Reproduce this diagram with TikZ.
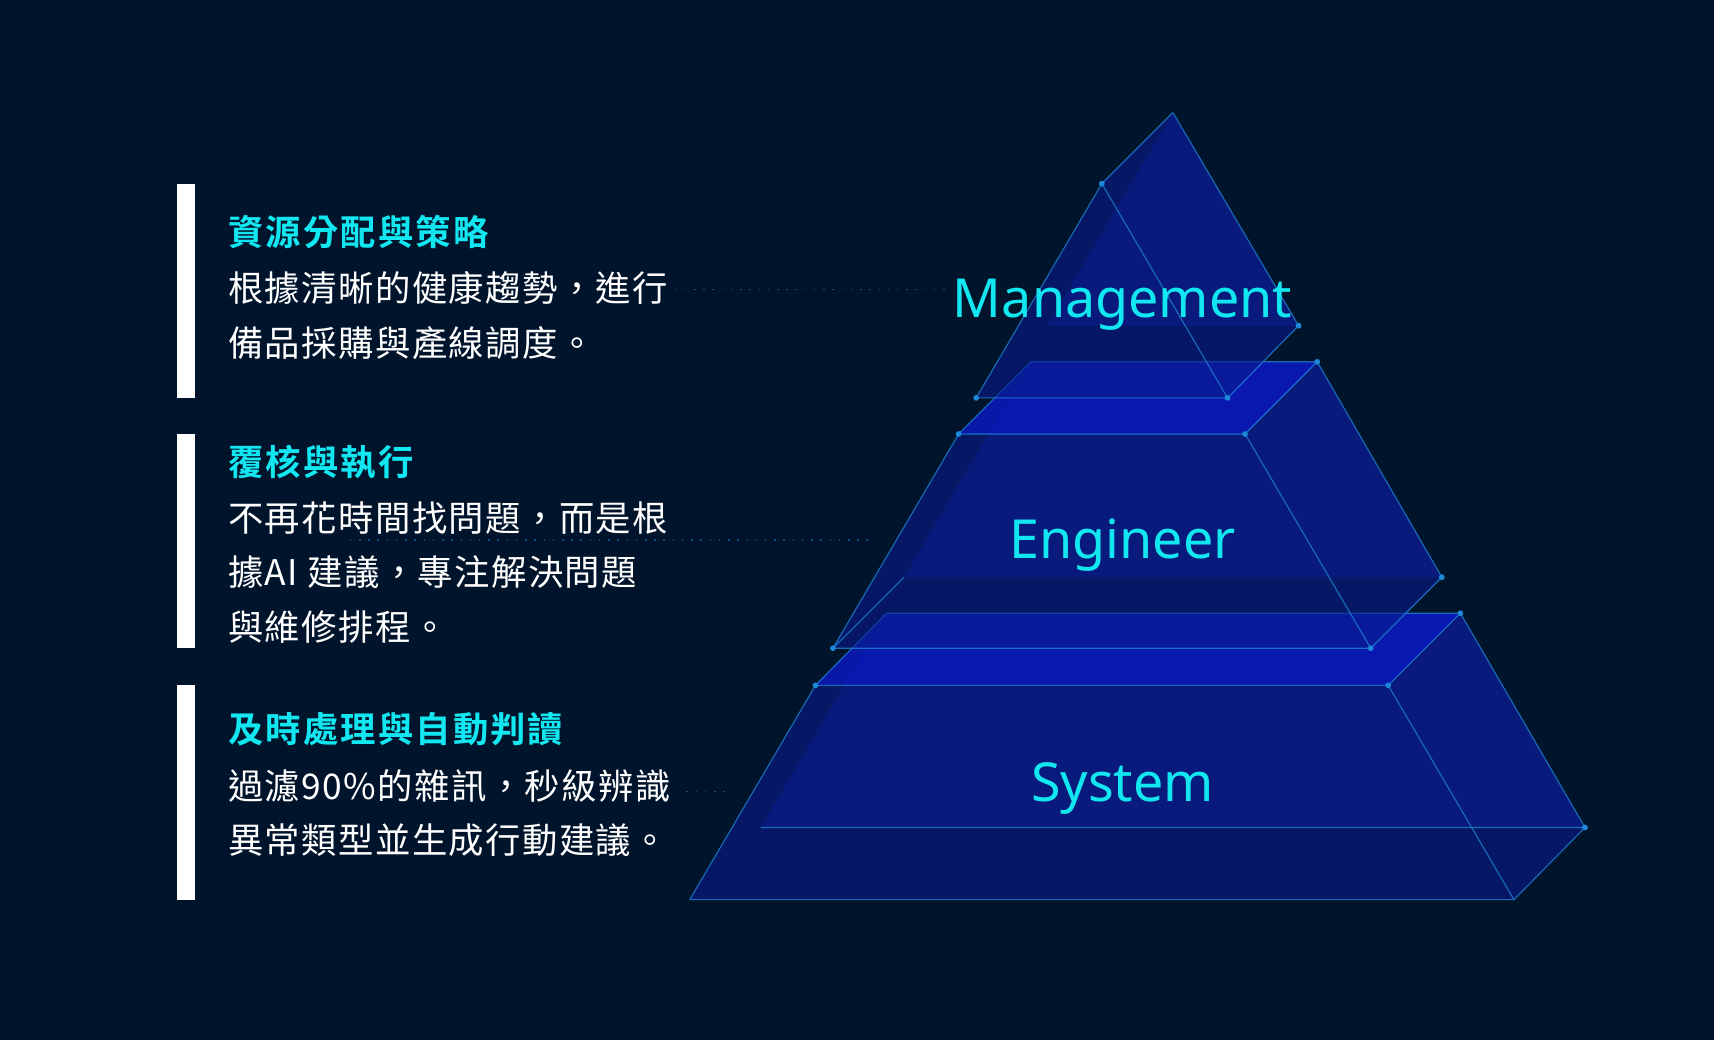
\documentclass[tikz,border=0pt]{standalone}
\usepackage{fontspec}
\setmainfont{Noto Sans}
\newfontfamily\cjk{Noto Sans CJK TC}[LetterSpace=4]
\newfontfamily\cjkb{Noto Sans CJK TC Bold}[LetterSpace=6]
\begin{document}
\begin{tikzpicture}[x=0.01cm,y=-0.01cm]
\definecolor{bg}{HTML}{00142C}
\definecolor{cy}{HTML}{12E6F0}
\definecolor{face}{HTML}{0A1C8C}
\definecolor{band}{HTML}{0A1ABE}
\definecolor{edge}{HTML}{1E88D8}
\tikzset{
 facef/.style={fill=face,fill opacity=0.6},
 bandf/.style={fill=band,fill opacity=0.85},
 ed/.style={draw=edge,draw opacity=0.75,line width=0.3pt},
 bar/.style={fill=white},
 head/.style={anchor=base west,inner sep=0pt,text=cy,font=\cjkb\fontsize{9.2}{11}\selectfont},
 body/.style={anchor=north west,inner sep=0pt,text=white,font=\cjk\fontsize{9.2}{14.2}\selectfont,align=left},
 lab/.style={text=cy,font=\fontsize{14}{16}\selectfont},
 dots/.style={draw=edge,draw opacity=0.5,dotted,line width=0.4pt},
 dot/.style={circle,fill=edge,inner sep=0pt,minimum size=1.5pt}
}
\fill[bg] (0,0) rectangle (1568,951);
\useasboundingbox (0,0) rectangle (1568,951);
\coordinate (d1a) at (618,265); \coordinate (d1b) at (870,265);
\coordinate (d2a) at (320,494); \coordinate (d2b) at (795,494);
\coordinate (d3a) at (628,724); \coordinate (d3b) at (665,724);
\draw[dots] (d1a)--(d1b); \draw[dots] (d2a)--(d2b); \draw[dots] (d3a)--(d3b);
% bottom tier
\fill[facef] (811,561)--(1336,561)--(1450,757)--(696,757)--cycle;
\fill[facef] (1270,627)--(1336,561)--(1450,757)--(1385,823)--cycle;
\fill[bandf] (811,561)--(1336,561)--(1270,627)--(746,627)--cycle;
\fill[facef] (746,627)--(1270,627)--(1385,823)--(631,823)--cycle;
\draw[ed] (631,823)--(746,627)--(811,561)--(1336,561)--(1270,627)--(746,627) (1336,561)--(1450,757)--(1385,823)--(631,823) (1270,627)--(1385,823) (696,757)--(1450,757);
% middle tier
\fill[facef] (943,331)--(1205,331)--(1319,528)--(827,528)--cycle;
\fill[facef] (1139,397)--(1205,331)--(1319,528)--(1254,593)--cycle;
\fill[bandf] (943,331)--(1205,331)--(1139,397)--(877,397)--cycle;
\fill[facef] (877,397)--(1139,397)--(1254,593)--(762,593)--cycle;
\draw[ed] (762,593)--(877,397)--(943,331)--(1205,331)--(1139,397)--(877,397) (1205,331)--(1319,528)--(1254,593)--(762,593) (1139,397)--(1254,593) (762,593)--(827,528);
% top tier
\fill[facef] (1073,103)--(1188,298)--(958,298)--cycle;
\fill[facef] (1008,168)--(1073,103)--(1188,298)--(1123,364)--cycle;
\fill[facef] (1008,168)--(1123,364)--(893,364)--cycle;
\draw[ed] (893,364)--(1008,168)--(1073,103)--(1188,298)--(1123,364)--(1008,168) (893,364)--(1123,364);
\foreach \p in {(1008,168),(1188,298),(1123,364),(893,364),(1205,331),(877,397),(1139,397),(1319,528),(1254,593),(762,593),(1336,561),(746,627),(1270,627),(1450,757)}
  \node[dot] at \p {};
\node[lab] (m) at (1027,279) {Management};
\node[lab] (e) at (1027,499) {Engineer};
\node[lab] (s) at (1027,721) {System};
\fill[bar] (162,168) rectangle (178,364);
\fill[bar] (162,397) rectangle (178,593);
\fill[bar] (162,627) rectangle (178,823);
\node[head] (h1) at (208,225) {資源分配與策略};
\node[body] (b1) at (208,248) {根據清晰的健康趨勢，進行\\備品採購與產線調度。};
\node[head] (h2) at (208,435) {覆核與執行};
\node[body] (b2) at (208,458) {不再花時間找問題，而是根\\據AI 建議，專注解決問題\\與維修排程。};
\node[head] (h3) at (208,679) {及時處理與自動判讀};
\node[body] (b3) at (208,703) {過濾90\%的雜訊，秒級辨識\\異常類型並生成行動建議。};
\end{tikzpicture}
\end{document}
